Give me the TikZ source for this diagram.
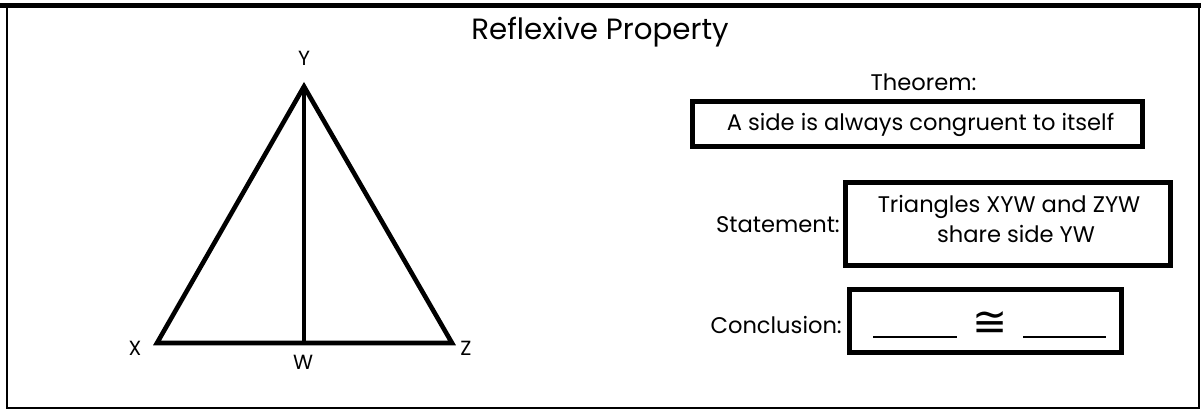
\documentclass[tikz,border=0pt]{standalone}
\usepackage{fontspec}
\setmainfont{Poppins}
\newfontfamily\symfont{DejaVu Sans}
\begin{document}
\begin{tikzpicture}[x=1pt,y=-1pt,
  lbl/.style={inner sep=0pt,anchor=base,font=\fontsize{20.5}{22}\selectfont},
  txt/.style={inner sep=0pt,anchor=base,font=\fontsize{22.6}{26}\selectfont},
  thick box/.style={draw,line width=4.6pt,inner sep=0pt},
  edge/.style={line width=4.6pt,line join=miter}]
\useasboundingbox (0,0) rectangle (1201,410);
% frame
\draw[line width=2.5pt] (7,5) -- (7,408) -- (1199,408) -- (1199,5);
\draw[line width=5pt] (0,5) -- (1201,5);
% title
\node[inner sep=0pt,anchor=base,font=\fontsize{29.3}{32}\selectfont] (title) at (600,39) {Reflexive Property};
% triangle
\coordinate (Y) at (304,86.5);
\coordinate (X) at (157,343);
\coordinate (Z) at (452,343);
\coordinate (W) at (304,343);
\draw[edge] (X) -- (Y) -- (Z) -- cycle;
\draw[edge] (Y) -- (W);
\node[lbl] (lY) at (304,65) {Y};
\node[lbl] (lX) at (135,355) {X};
\node[lbl] (lZ) at (466,355) {Z};
\node[lbl] (lW) at (303,369) {W};
% theorem
\node[txt] (thmlbl) at (923.5,90) {Theorem:};
\node[thick box,minimum width=450pt,minimum height=45pt] (thm) at (917.5,124) {};
\node[txt] (thmtxt) at (920.5,130) {A side is always congruent to itself};
% statement
\node[thick box,minimum width=325pt,minimum height=83pt] (st) at (1008,224) {};
\node[txt,anchor=base east] (stlbl) at (840,232) {Statement:};
\node[txt] (st1) at (1009,212) {Triangles XYW and ZYW};
\node[txt] (st2) at (1016,242) {share side YW};
% conclusion
\node[thick box,minimum width=272pt,minimum height=63pt] (co) at (985.5,321) {};
\node[txt,anchor=base east] (colbl) at (842,333) {Conclusion:};
\node[inner sep=0pt] (b1) at (915,337) {\rule{84pt}{1.2pt}};
\node[inner sep=0pt] (b2) at (1064.5,337) {\rule{83pt}{1.2pt}};
\node[inner sep=0pt,font=\symfont\fontsize{42}{42}\selectfont] (cong) at (990,324) {≅};
\end{tikzpicture}
\end{document}
